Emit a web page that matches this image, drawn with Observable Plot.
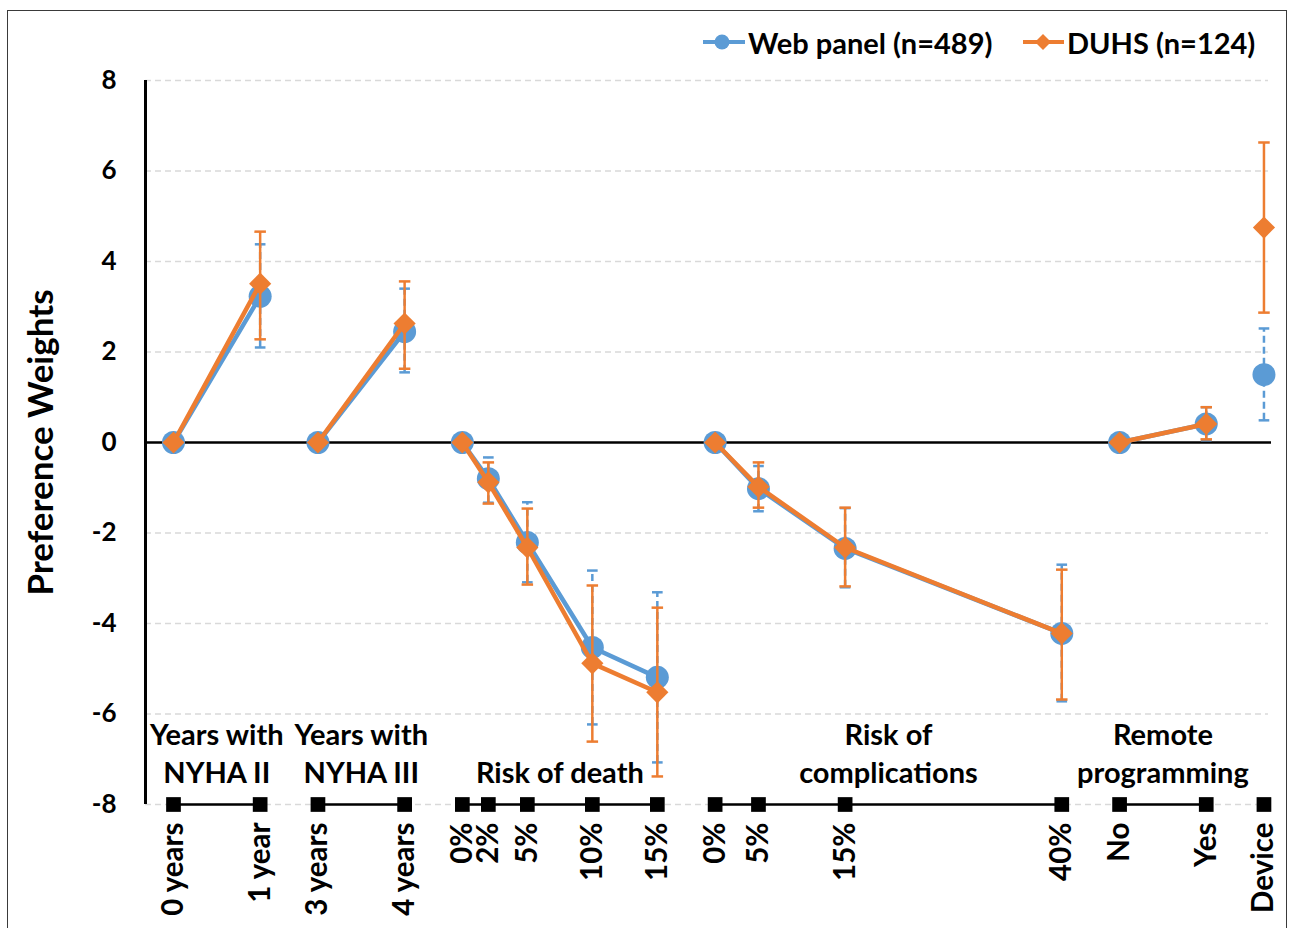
<!DOCTYPE html>
<html>
<head>
<meta charset="utf-8">
<script src="https://cdn.jsdelivr.net/npm/d3@7"></script>
<script src="https://cdn.jsdelivr.net/npm/@observablehq/plot@0.6"></script>
<style>
  html, body { margin: 0; padding: 0; background: #fff; }
  #wrap { position: relative; width: 1293px; height: 928px; overflow: hidden; font-family: Lato, "Open Sans", sans-serif; }
  #frame { position: absolute; left: 7px; top: 10px; width: 1280px; height: 940px; border: 1.5px solid #3a3a3a; box-sizing: border-box; pointer-events: none; }
  #chart { position: absolute; left: 0; top: 0; }
  .leg { position: absolute; top: 24px; height: 36px; display: flex; align-items: center; font-weight: bold; font-size: 29px; color: #000; white-space: nowrap; }
  .leg svg { margin-right: 2px; }
</style>
</head>
<body>
<div id="wrap">
  <div id="chart"></div>
  <div class="leg" id="leg1" style="left:702px"></div>
  <div class="leg" id="leg2" style="left:1022px"></div>
  <div id="frame"></div>
</div>
<script>
// ---- data ----
const groupNames = ["Years with\nNYHA II", "Years with\nNYHA III", "Risk of death", "Risk of\ncomplications", "Remote\nprogramming", ""];
const levelLabels = ["0 years","1 year","3 years","4 years","0%","2%","5%","10%","15%","0%","5%","15%","40%","No","Yes","Device"];
const levelGroup  = [0,0,1,1,2,2,2,2,2,3,3,3,3,4,4,5];
const levelX      = [0,1,1.667,2.667,3.333,3.633,4.083,4.833,5.583,6.25,6.75,7.75,10.25,10.917,11.917,12.583];

const seriesNames = ["Web panel (n=489)", "DUHS (n=124)"];
const webMean = [0,3.23,0,2.45,0,-0.80,-2.21,-4.53,-5.19,0,-1.02,-2.34,-4.22,0,0.41,1.50];
const webLow  = [null,2.10,null,1.55,null,-1.33,-3.09,-6.23,-7.07,null,-1.52,-3.20,-5.72,null,0.05,0.49];
const webHigh = [null,4.38,null,3.40,null,-0.33,-1.32,-2.83,-3.31,null,-0.52,-1.45,-2.70,null,0.78,2.52];
const duhsMean = [0,3.51,0,2.63,0,-0.88,-2.32,-4.88,-5.52,0,-0.98,-2.32,-4.22,0,0.41,4.75];
const duhsLow  = [null,2.28,null,1.63,null,-1.35,-3.14,-6.61,-7.38,null,-1.44,-3.18,-5.68,null,0.07,2.87];
const duhsHigh = [null,4.66,null,3.56,null,-0.44,-1.46,-3.16,-3.65,null,-0.44,-1.44,-2.81,null,0.78,6.63];

const yTicks = [-8,-6,-4,-2,0,2,4,6,8];

// ---- build tables ----
const levels = levelLabels.map((label, i) => ({label, x: levelX[i], group: levelGroup[i]}));
function seriesRows(mean, low, high) {
  return levels.map((d, i) => ({...d, mean: mean[i], low: low[i], high: high[i]}));
}
const web = seriesRows(webMean, webLow, webHigh);
const duhs = seriesRows(duhsMean, duhsLow, duhsHigh);
const webErr = web.filter(d => d.low != null);
const duhsErr = duhs.filter(d => d.low != null);

const groupRows = groupNames.map((name, g) => {
  const xs = levels.filter(d => d.group === g).map(d => d.x);
  return {name, x: (d3.min(xs) + d3.max(xs)) / 2, lines: name.split("\n").length};
}).filter(d => d.name);

const BLUE = "#5B9BD5", ORANGE = "#ED7D31";
const FONT = "Lato, 'Open Sans', sans-serif";
const capSymbol = {draw(ctx, size) { const w = Math.sqrt(size); ctx.moveTo(-w / 2, 0); ctx.lineTo(w / 2, 0); }};
const xDomain = [-0.323, 12.67];

const chart = Plot.plot({
  width: 1293,
  height: 928,
  marginLeft: 145,
  marginRight: 22,
  marginTop: 80,
  marginBottom: 124,
  x: {domain: xDomain, axis: null},
  y: {domain: [-8, 8], axis: null},
  style: {fontFamily: FONT, background: "transparent", overflow: "visible"},
  marks: [
    // gridlines
    Plot.ruleY(yTicks.filter(d => d !== 0), {y: d => d, x1: xDomain[0], x2: 12.635, stroke: "#d9d9d9", strokeWidth: 1.5, strokeDasharray: "6,4"}),
    // zero line
    Plot.ruleY([0], {stroke: "#000", strokeWidth: 2.5}),
    // y axis line
    Plot.ruleX([xDomain[0]], {y1: -8, y2: 8, stroke: "#000", strokeWidth: 3}),
    // y tick labels
    Plot.text(yTicks, {x: xDomain[0], y: d => d, text: d => String(d), textAnchor: "end", dx: -29, fontSize: 26, fontWeight: "bold", fill: "#000"}),
    // y label
    Plot.text(["Preference Weights"], {frameAnchor: "left", textAnchor: "middle", dx: -104, rotate: -90, fontSize: 35, fontWeight: "bold", fill: "#000"}),
    // category axis: group connectors and squares
    Plot.line(levels, {x: "x", y: () => -8, z: "group", stroke: "#000", strokeWidth: 2.5}),
    Plot.dot(levels, {x: "x", y: () => -8, symbol: "square", r: 8.3, fill: "#000"}),
    // category tick labels
    Plot.text(levels, {x: "x", y: () => -8, text: "label", rotate: -90, textAnchor: "end", dy: 18, fontSize: 29.5, fontWeight: "bold", fill: "#000"}),
    // group labels
    Plot.text(groupRows.filter(d => d.lines === 2), {x: "x", y: () => -8, text: "name", dy: -53, lineHeight: 1.31, fontSize: 29, fontWeight: "bold", fill: "#000"}),
    Plot.text(groupRows.filter(d => d.lines === 1), {x: "x", y: () => -8, text: "name", dy: -31, fontSize: 29, fontWeight: "bold", fill: "#000"}),
    // Web panel series
    Plot.line(web, {x: "x", y: "mean", z: "group", stroke: BLUE, strokeWidth: 4.5}),
    Plot.ruleX(webErr, {x: "x", y1: "low", y2: "high", stroke: BLUE, strokeWidth: 2.5, strokeDasharray: "7,4"}),
    Plot.dot(webErr, {x: "x", y: "low", symbol: capSymbol, r: 6, stroke: BLUE, strokeWidth: 2.5}),
    Plot.dot(webErr, {x: "x", y: "high", symbol: capSymbol, r: 6, stroke: BLUE, strokeWidth: 2.5}),
    Plot.dot(web, {x: "x", y: "mean", r: 11.5, fill: BLUE}),
    // DUHS series
    Plot.line(duhs, {x: "x", y: "mean", z: "group", stroke: ORANGE, strokeWidth: 4.5}),
    Plot.ruleX(duhsErr, {x: "x", y1: "low", y2: "high", stroke: ORANGE, strokeWidth: 2.5}),
    Plot.dot(duhsErr, {x: "x", y: "low", symbol: capSymbol, r: 6.5, stroke: ORANGE, strokeWidth: 2.5}),
    Plot.dot(duhsErr, {x: "x", y: "high", symbol: capSymbol, r: 6.5, stroke: ORANGE, strokeWidth: 2.5}),
    Plot.dot(duhs, {x: "x", y: "mean", symbol: "diamond2", r: 10, fill: ORANGE})
  ]
});
document.getElementById("chart").appendChild(chart);

// legend
document.getElementById("leg1").innerHTML =
  `<svg width="44" height="24"><line x1="1" y1="12" x2="43" y2="12" stroke="${BLUE}" stroke-width="4"/><circle cx="20" cy="12" r="7.5" fill="${BLUE}"/></svg>` +
  `<span>${seriesNames[0]}</span>`;
document.getElementById("leg2").innerHTML =
  `<svg width="43" height="24"><line x1="1" y1="12" x2="42" y2="12" stroke="${ORANGE}" stroke-width="4"/><path d="M21,4 L29,12 L21,20 L13,12 Z" fill="${ORANGE}"/></svg>` +
  `<span>${seriesNames[1]}</span>`;
</script>
</body>
</html>
